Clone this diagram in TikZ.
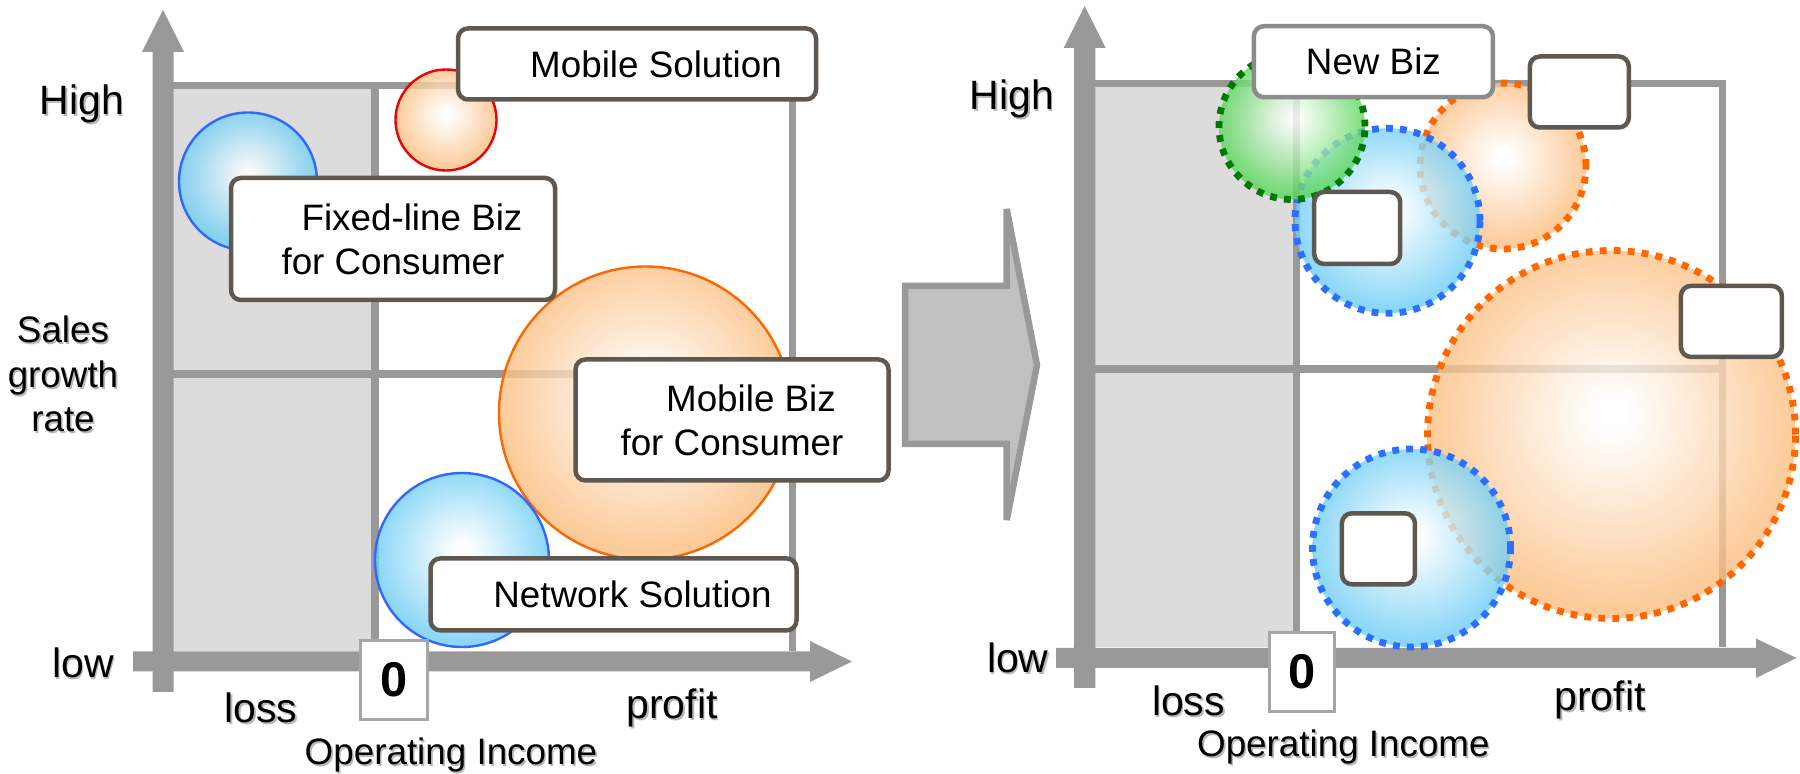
\documentclass[tikz,border=0pt]{standalone}
\usepackage{fontspec}
\setmainfont{Liberation Sans}

% palette
\definecolor{axisgray}{HTML}{999999}
\definecolor{shadegray}{HTML}{DCDCDC}
\definecolor{boxline}{HTML}{5E5850}
\definecolor{newbizline}{HTML}{8C8C8C}
\definecolor{zeroline}{HTML}{A6A6A6}
\definecolor{arrowfill}{HTML}{C0C0C0}
\definecolor{bubblue}{RGB}{110,205,245}
\definecolor{buborange}{RGB}{251,190,128}
\definecolor{bubgreen}{RGB}{90,215,90}
\definecolor{lineblue}{RGB}{51,102,255}
\definecolor{linered}{RGB}{240,0,0}
\definecolor{lineorange}{RGB}{255,102,0}
\definecolor{dotblue}{RGB}{45,110,255}
\definecolor{dotorange}{RGB}{255,102,0}
\definecolor{dotgreen}{RGB}{0,120,0}

% bubble fills: white highlight slightly above the centre
\pgfdeclareradialshading{ballblue}{\pgfpoint{0bp}{3bp}}{color(0bp)=(white); color(2bp)=(white); color(25bp)=(bubblue); color(50bp)=(bubblue)}
\pgfdeclareradialshading{ballorange}{\pgfpoint{0bp}{3bp}}{color(0bp)=(white); color(2bp)=(white); color(25bp)=(buborange); color(50bp)=(buborange)}
\pgfdeclareradialshading{ballgreen}{\pgfpoint{0bp}{3bp}}{color(0bp)=(white); color(2bp)=(white); color(25bp)=(bubgreen); color(50bp)=(bubgreen)}

\newcommand\boxfont{\fontsize{18.4}{22}\selectfont}
\newcommand\axisfont{\fontsize{20.5}{24}\selectfont}
\newcommand\ratefont{\fontsize{18.4}{22.25}\selectfont}
\newcommand\zerofont{\fontsize{24.4}{28}\selectfont\bfseries}

% label with a soft drop shadow: name, position, font, text
\newcommand\castlabel[4]{%
  \node[text=black!28, font=#3, align=center, xshift=0.8pt, yshift=-1pt] at (#2) {#4};
  \node[font=#3, align=center] (#1) at (#2) {#4};}

\begin{document}
\begin{tikzpicture}[x=0.5pt, y=-0.5pt,
  bubble/.style={circle, inner sep=0pt, shade, fill opacity=0.8},
  solidrim/.style={line width=1.2pt},
  dotrim/.style={line width=3.4pt, dash pattern=on 3.4pt off 3.6pt},
  tag/.style={draw=boxline, line width=2.25pt, rounded corners=5pt, fill=white,
    inner sep=0pt, font=\boxfont, align=center},
  zerobox/.style={draw=zeroline, line width=1.5pt, fill=white, inner sep=0pt, font=\zerofont},
  gridline/.style={draw=axisgray, line width=3.6pt}]
\useasboundingbox (0,0) rectangle (1800,774);

% ================= left chart =================
\fill[shadegray] (172,85.5) rectangle (375,651.5);
\path[gridline] (172,85.5) -- (792.5,85.5) -- (792.5,651.5);
\path[gridline] (172,374) -- (792.5,374);
\path[gridline] (375,85.5) -- (375,651.5);
% axes
\fill[axisgray] (152.5,692) -- (152.5,52) -- (142,52) -- (163,10) -- (184,52) -- (173.5,52) -- (173.5,692) -- cycle;
\fill[axisgray] (133,651.5) -- (810,651.5) -- (810,641) -- (852,661.5) -- (810,682) -- (810,671.5) -- (133,671.5) -- cycle;

% bubbles
\node[bubble, shading=ballblue, draw=lineblue, solidrim, minimum size=138pt/2] (fixedball) at (248,181.5) {};
\node[bubble, shading=ballorange, draw=linered, solidrim, minimum size=101pt/2] (msolball) at (446,120) {};
\node[bubble, shading=ballorange, draw=lineorange, solidrim, minimum size=293pt/2] (mbizball) at (645.5,413) {};
\node[bubble, shading=ballblue, draw=lineblue, solidrim, minimum size=174pt/2] (nsolball) at (462,560) {};

% labels
\node[tag, minimum width=179pt, minimum height=35.5pt] (msol) at (637,64) {\hspace*{19pt}Mobile Solution};
\node[tag, minimum width=162pt, minimum height=61pt] (fixed) at (393,239) {\hspace*{19pt}Fixed-line Biz\\for Consumer};
\node[tag, minimum width=156.5pt, minimum height=60.5pt] (mbiz) at (732,420) {\hspace*{19pt}Mobile Biz\\for Consumer};
\node[tag, minimum width=183pt, minimum height=36pt] (nsol) at (613.5,594.4) {\hspace*{19pt}Network Solution};

\node[zerobox, minimum width=33.5pt, minimum height=39.2pt] (zeroL) at (394.3,680) {0};

\castlabel{highL}{82,104}{\axisfont}{High}
\castlabel{lowL}{83,663}{\axisfont}{low}
\castlabel{rateL}{63,374}{\ratefont}{Sales\\growth\\rate}
\castlabel{lossL}{261,708}{\axisfont}{loss}
\castlabel{profitL}{672,708}{\axisfont}{profit}
\castlabel{incomeL}{451,755}{\boxfont}{Operating Income}

% ================= transition arrow =================
\draw[draw=axisgray, fill=arrowfill, line width=3.25pt]
  (905,286) -- (1006.7,286) -- (1006.7,209) -- (1037,365) -- (1006.7,520) -- (1006.7,444) -- (905,444) -- cycle;

% ================= right chart =================
\fill[shadegray] (1095,83.5) rectangle (1296.6,647.5);
\path[gridline] (1095,83.5) -- (1722.7,83.5) -- (1722.7,647.5);
\path[gridline] (1095,369) -- (1722.7,369);
\path[gridline] (1296.6,83.5) -- (1296.6,647.5);
% axes
\fill[axisgray] (1074,688) -- (1074,48) -- (1063.7,48) -- (1084.7,6) -- (1105.7,48) -- (1095.4,48) -- (1095.4,688) -- cycle;
\fill[axisgray] (1056,648) -- (1756,648) -- (1756,638.5) -- (1796.5,658) -- (1756,678) -- (1756,668) -- (1056,668) -- cycle;

% bubbles
\node[bubble, shading=ballorange, draw=dotorange, dotrim, minimum size=368pt/2] (bigball) at (1611.5,434.5) {};
\node[bubble, shading=ballblue, draw=dotblue, dotrim, minimum size=198pt/2] (lowball) at (1411.5,548) {};
\node[bubble, shading=ballorange, draw=dotorange, dotrim, minimum size=166pt/2] (topball) at (1503,166) {};
\node[bubble, shading=ballblue, draw=dotblue, dotrim, minimum size=185pt/2] (midball) at (1387.5,220.8) {};
\node[bubble, shading=ballgreen, draw=dotgreen, dotrim, minimum size=146pt/2] (newball) at (1292,126.5) {};

% labels
\node[tag, draw=newbizline, minimum width=119.5pt, minimum height=35.5pt] (newbiz) at (1373.4,61.7) {New Biz};
\node[tag, minimum width=49.5pt, minimum height=35.5pt] (tagA) at (1579.3,92) {};
\node[tag, minimum width=43pt, minimum height=36pt] (tagB) at (1357.2,228) {};
\node[tag, minimum width=50.5pt, minimum height=35.5pt] (tagC) at (1731.4,321.4) {};
\node[tag, minimum width=36.5pt, minimum height=35.5pt] (tagD) at (1378.4,548.8) {};

\node[zerobox, minimum width=32.5pt, minimum height=39.5pt] (zeroR) at (1301.7,672) {0};

\castlabel{highR}{1012,99}{\axisfont}{High}
\castlabel{lowR}{1017.8,658}{\axisfont}{low}
\castlabel{lossR}{1188.5,700.5}{\axisfont}{loss}
\castlabel{profitR}{1600,700}{\axisfont}{profit}
\castlabel{incomeR}{1343.4,746.5}{\boxfont}{Operating Income}
\end{tikzpicture}
\end{document}
